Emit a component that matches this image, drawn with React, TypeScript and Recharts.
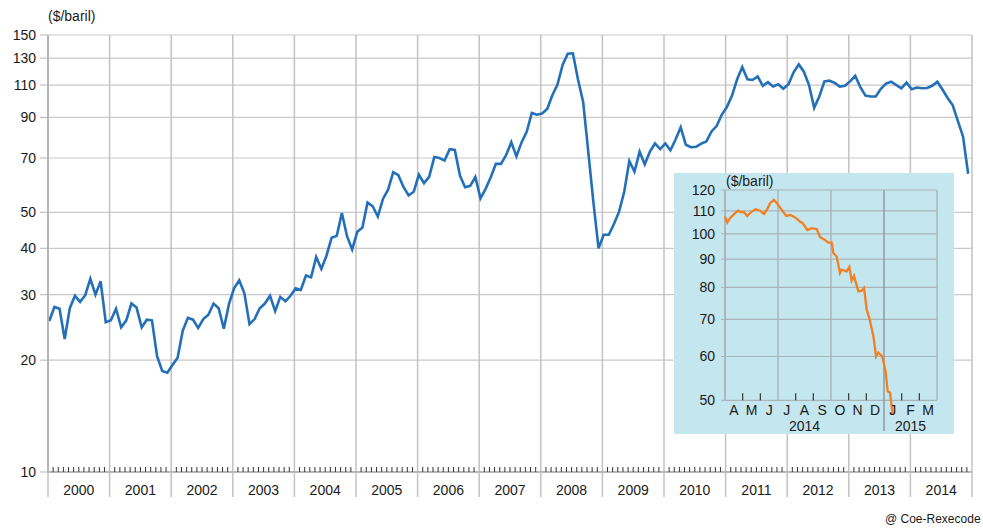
import React from 'react';
import { LineChart, Line, XAxis, YAxis, CartesianGrid, ReferenceLine, ReferenceDot } from 'recharts';

const FONT = '"Liberation Sans", Arial, sans-serif';

// main chart: monthly average, $/baril, Jan 2000 -> Dec 2014
const yearLabels = ['2000', '2001', '2002', '2003', '2004', '2005', '2006', '2007', '2008', '2009', '2010', '2011', '2012', '2013', '2014'];
const monthlyPrice = [
  25.5, 27.8, 27.5, 22.8, 27.6, 29.8, 28.7, 29.9, 33.1, 30.0, 32.6, 25.3,
  25.6, 27.5, 24.5, 25.6, 28.4, 27.7, 24.5, 25.7, 25.6, 20.5, 18.7, 18.5,
  19.4, 20.3, 24.0, 26.0, 25.7, 24.4, 25.8, 26.5, 28.4, 27.6, 24.3, 28.3,
  31.2, 32.8, 30.3, 25.0, 25.8, 27.6, 28.4, 29.8, 27.1, 29.6, 28.8, 29.8,
  31.2, 30.9, 33.8, 33.4, 37.9, 35.2, 38.2, 42.7, 43.2, 49.8, 43.1, 39.7,
  44.3, 45.5, 53.1, 51.9, 48.7, 54.3, 57.5, 64.1, 62.9, 58.5, 55.5, 56.8,
  63.1, 59.9, 62.3, 70.4, 70.0, 68.9, 73.9, 73.6, 62.8, 58.4, 58.9, 62.2,
  54.5, 57.8, 62.1, 67.5, 67.5, 71.3, 77.2, 70.8, 77.1, 82.3, 92.5, 91.5,
  92.2, 94.9, 103.3, 110.4, 124.6, 133.5, 133.9, 113.9, 99.1, 72.7, 53.2, 40.0,
  43.5, 43.5, 46.5, 50.2, 56.8, 68.7, 64.3, 72.8, 67.3, 72.8, 76.6, 74.0,
  76.6, 73.4, 78.5, 84.6, 76.0, 74.8, 75.0, 76.5, 77.5, 82.5, 85.3, 91.5,
  96.0, 103.0, 114.0, 123.0, 114.0, 113.5, 116.0, 109.5, 112.0, 109.0, 110.5, 107.5,
  110.5, 119.0, 125.0, 119.5, 110.0, 95.5, 102.5, 112.5, 113.0, 111.5, 109.0, 109.5,
  112.5, 116.5, 108.5, 103.0, 102.5, 102.5, 107.5, 111.0, 112.3, 110.0, 107.8, 111.7,
  107.2, 108.3, 107.8, 108.0, 109.5, 112.3, 107.0, 101.5, 97.0, 88.0, 80.0, 63.5,
];
const mainTicks = [10, 20, 30, 40, 50, 70, 90, 110, 130, 150];

// inset: daily, Apr 2014 -> Jan 2015 (months elapsed since 1 Apr 2014)
const insetMonth = [
  0, 0.13, 0.28, 0.57, 0.75, 0.89, 1.08, 1.26, 1.51, 1.74, 1.98, 2.21, 2.39, 2.55, 2.77, 2.96,
  3.21, 3.47, 3.68, 3.9, 4.09, 4.24, 4.4, 4.66, 4.91, 5.19, 5.38, 5.6, 5.85, 6.04, 6.13, 6.32,
  6.51, 6.6, 6.89, 7.04, 7.17, 7.3, 7.55, 7.74, 7.87, 8.02, 8.17, 8.4, 8.55, 8.68, 8.9, 9.09,
  9.21, 9.34, 9.49,
];
const insetPrice = [
  107.4, 104.8, 106.7, 109.0, 110.1, 109.4, 109.4, 107.7, 109.7, 110.8, 110.1, 108.6, 110.8, 113.6, 115.2, 113.3,
  110.5, 107.7, 108.2, 107.4, 106.3, 105.2, 104.5, 101.6, 102.4, 102.0, 98.6, 97.8, 96.4, 96.4, 92.3, 91.0,
  84.9, 86.1, 85.5, 87.1, 82.3, 83.9, 78.7, 78.9, 79.8, 72.9, 70.4, 65.3, 60.0, 61.0, 60.0, 56.4,
  51.9, 51.6, 47.1,
];
const insetMonthLabels = ['A', 'M', 'J', 'J', 'A', 'S', 'O', 'N', 'D', 'J', 'F', 'M'];
const insetYears = ['2014', '2015'];
const insetYearCenter = [4.5, 10.5];
const insetQuarterLines = [3, 6, 12];
const insetYearBreak = 9;
const insetTicks = [50, 60, 70, 80, 90, 100, 110, 120];
const insetBase = 50;
const insetTop = 120;
const insetFloor = 44; // room below the 50 axis so the last days can dip under it

const mainData = monthlyPrice.map((v, i) => ({ t: i + 0.25, v }));
const insetData = insetPrice.map((v, i) => ({ t: insetMonth[i], v }));

const monthCount = yearLabels.length * 12;
const mainXTicks = Array.from({ length: monthCount + 1 }, (_, i) => i);
const yearLines = yearLabels.map((_, k) => (k + 1) * 12);
const insetMinorTicks = insetMonthLabels.map((_, m) => m).filter((m) => m % 3 !== 0);

const INSET_GRID = '#a9b3b8';
const TXT = '#1a1a1a';

const MainXTick = (props: any) => {
  const { x, y, payload } = props;
  const i = payload.value;
  if (i % 12 === 0) {
    return <line x1={x} x2={x} y1={y} y2={y + 25} stroke="#c2c2c2" strokeWidth={1.5} />;
  }
  return (
    <g>
      <line x1={x} x2={x} y1={y - 5} y2={y} stroke="#333" strokeWidth={1} />
      {i % 12 === 6 && (
        <text x={x} y={y + 23} textAnchor="middle" fontSize={14} fill={TXT} fontFamily={FONT}>
          {yearLabels[(i - 6) / 12]}
        </text>
      )}
    </g>
  );
};

const textAt = (label: string, dy: number) => (p: any) => (
  <text x={p.cx} y={p.cy + dy} textAnchor="middle" fontSize={14} fill={TXT} fontFamily={FONT}>
    {label}
  </text>
);

const minorTick = (p: any) => <line x1={p.cx} x2={p.cx} y1={p.cy - 7} y2={p.cy} stroke="#333" strokeWidth={1.2} />;

export default function App() {
  return (
    <div style={{ position: 'absolute', left: 0, top: 0, width: 983, height: 529, background: '#fff', fontFamily: FONT }}>
      <div style={{ position: 'absolute', left: 48, top: 8, fontSize: 14, color: TXT }}>($/baril)</div>
      <LineChart width={983} height={529} data={mainData} margin={{ top: 35, right: 11, left: 0, bottom: 0 }}>
        <CartesianGrid vertical={false} stroke="#c9c9c9" strokeWidth={1.2} />
        {yearLines.map((x) => (
          <ReferenceLine key={x} x={x} stroke="#c2c2c2" strokeWidth={1.5} />
        ))}
        <XAxis
          type="number"
          dataKey="t"
          domain={[0, monthCount]}
          ticks={mainXTicks}
          interval={0}
          tickSize={0}
          tickMargin={0}
          tickLine={false}
          height={57}
          axisLine={{ stroke: '#a8a8a8', strokeWidth: 1.5 }}
          tick={<MainXTick />}
        />
        <YAxis
          scale="log"
          domain={[10, 150]}
          ticks={mainTicks}
          allowDataOverflow
          width={48}
          tickSize={8}
          tickMargin={4}
          interval={0}
          tickLine={{ stroke: '#b5b5b5' }}
          axisLine={{ stroke: '#b5b5b5', strokeWidth: 2 }}
          tick={{ fontSize: 14, fill: TXT, fontFamily: FONT }}
        />
        <Line type="linear" dataKey="v" stroke="#2370b8" strokeWidth={2.6} dot={false} isAnimationActive={false} />
      </LineChart>

      <div style={{ position: 'absolute', left: 674, top: 173, width: 280, height: 261, background: '#c4e6ef' }}>
        <div style={{ position: 'absolute', left: 52, top: 0, fontSize: 14, color: TXT }}>($/baril)</div>
        <LineChart width={280} height={261} data={insetData} margin={{ top: 17, right: 17, left: 0, bottom: 3 }}>
          {insetTicks.map((y) => (
            <ReferenceLine key={'h' + y} y={y} stroke={INSET_GRID} strokeWidth={1.2} />
          ))}
          {insetQuarterLines.map((x) => (
            <ReferenceLine key={x} segment={[{ x, y: insetBase }, { x, y: insetTop }]} stroke={INSET_GRID} strokeWidth={1.4} />
          ))}
          <ReferenceLine segment={[{ x: 0, y: insetBase }, { x: 0, y: insetTop }]} stroke={INSET_GRID} strokeWidth={1.8} />
          <ReferenceLine
            segment={[{ x: insetYearBreak, y: insetFloor }, { x: insetYearBreak, y: insetTop }]}
            stroke="#8f9aa0"
            strokeWidth={1.5}
          />
          {insetMinorTicks.map((m) => (
            <ReferenceDot key={'t' + m} x={m} y={insetBase} r={1} shape={minorTick} />
          ))}
          {insetMonthLabels.map((lab, m) => (
            <ReferenceDot key={'m' + m} x={m + 0.5} y={insetBase} r={1} shape={textAt(lab, 15)} />
          ))}
          {insetYears.map((yr, k) => (
            <ReferenceDot key={yr} x={insetYearCenter[k]} y={insetBase} r={1} shape={textAt(yr, 31)} />
          ))}
          <XAxis type="number" dataKey="t" domain={[0, 12]} hide />
          <YAxis
            scale="log"
            domain={[insetFloor, insetTop]}
            ticks={insetTicks}
            width={51}
            tickSize={4}
            tickMargin={6}
            interval={0}
            tickLine={{ stroke: INSET_GRID }}
            axisLine={false}
            tick={{ fontSize: 14, fill: TXT, fontFamily: FONT }}
          />
          <Line type="linear" dataKey="v" stroke="#f47f20" strokeWidth={2.3} dot={false} isAnimationActive={false} />
        </LineChart>
      </div>

      <div style={{ position: 'absolute', left: 885, top: 512, fontSize: 12, color: TXT, whiteSpace: 'nowrap' }}>
        @ Coe-Rexecode
      </div>
    </div>
  );
}
